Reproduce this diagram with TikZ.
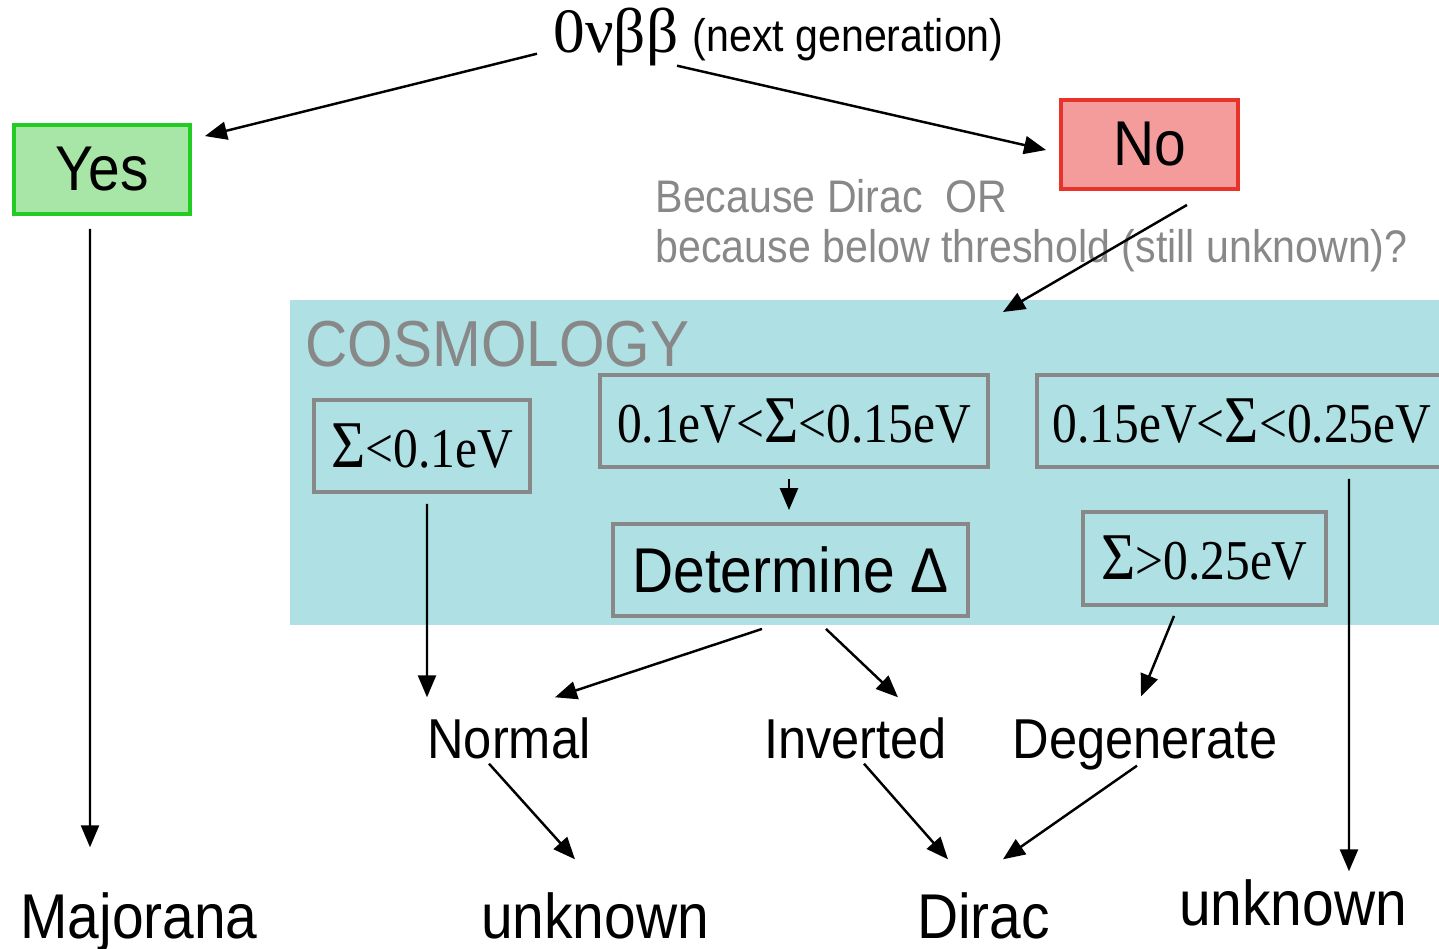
\documentclass[tikz,border=0pt]{standalone}
\usepackage{fontspec}
\setmainfont[FakeStretch=0.9]{Liberation Sans}
\newfontfamily\tnr[FakeStretch=0.88]{Liberation Serif}
\newfontfamily\tnrwide{Liberation Serif}
\usetikzlibrary{arrows.meta}
\definecolor{NuGreen}{HTML}{22CC22}
\definecolor{NuGreenFog}{HTML}{A8E6A8}
\definecolor{NuRed}{HTML}{E8322A}
\definecolor{NuRedFog}{HTML}{F49C9C}
\definecolor{NuGrey}{HTML}{888888}
\definecolor{NuCosmo}{HTML}{AEE0E4}
\newcommand{\bigsig}{{\fontsize{19}{19}\selectfont Σ}}

\begin{document}
\begin{tikzpicture}[
      >={Triangle[length=2.2mm,width=1.8mm]},
      arr/.style={->,line width=0.7pt},
      yesbox/.style={draw=NuGreen,fill=NuGreenFog,line width=1.1pt,minimum width=1.76cm,
        minimum height=0.89cm,font=\fontsize{18}{18}\selectfont},
      nobox/.style={draw=NuRed,fill=NuRedFog,line width=1.1pt,minimum width=1.77cm,
        minimum height=0.89cm,font=\fontsize{18}{18}\selectfont},
      cbox/.style={draw=NuGrey,line width=1.1pt,minimum height=0.92cm,inner sep=0pt},
      mass/.style={cbox,font=\tnr\fontsize{16}{16}\selectfont},
      leaf/.style={inner sep=0pt,text height=0.40cm,text depth=0.12cm,font=\fontsize{16}{16}\selectfont},
      fate/.style={inner sep=0pt,text height=0.46cm,text depth=0.12cm,font=\fontsize{18}{18}\selectfont}
    ]
    \useasboundingbox (0,0) rectangle (14.39,-9.49);

    % cosmology band
    \fill[NuCosmo] (2.90,-3.00) rectangle (14.50,-6.25);
    \node[anchor=base west,inner sep=0pt,text=NuGrey,font=\fontsize{18.5}{18.5}\selectfont]
      (cosmo) at (3.05,-3.66) {COSMOLOGY};
    \coordinate (cosmotop) at (10.03,-3.12);

    % top question
    \node[anchor=base west,inner sep=0pt,text height=0.42cm,text depth=0.12cm,
      font=\tnrwide\fontsize{18}{18}\selectfont] (nu) at (5.53,-0.52) {0νββ};
    \node[anchor=base west,inner sep=0pt,text height=0.40cm,text depth=0.12cm,
      font=\fontsize{13}{13}\selectfont] (gen) at (6.92,-0.51) {(next generation)};

    \node[yesbox] (yes) at (1.02,-1.695) {Yes};
    \node[nobox] (no) at (11.495,-1.445) {No};
    \node[anchor=north west,inner sep=0pt,align=left,text=NuGrey,
      font=\fontsize{13}{14.2}\selectfont] (why) at (6.55,-1.79)
      {Because Dirac\ \ OR\\because below threshold (still unknown)?};

    \draw[arr] ([shift={(-0.16,0.11)}]nu.south west) -- ([shift={(0.13,-0.13)}]yes.north east);
    \draw[arr] ([shift={(-0.15,-0.02)}]gen.south west) -- ([shift={(-0.13,-0.055)}]no.west);
    \draw[arr] ([shift={(0.375,-0.14)}]no.south) -- (cosmotop);

    % mass boxes
    \node[mass,minimum width=2.16cm] (s1) at (4.22,-4.46) {\bigsig<0.1eV};
    \node[mass,minimum width=3.88cm] (s2) at (7.94,-4.21) {0.1eV<\bigsig<0.15eV};
    \node[mass,minimum width=4.10cm] (s3) at (12.42,-4.21) {0.15eV<\bigsig<0.25eV};
    \node[mass,minimum width=2.43cm,minimum height=0.93cm] (s4) at (12.045,-5.585) {\bigsig>0.25eV};
    \node[cbox,minimum width=3.55cm,font=\fontsize{18}{18}\selectfont] (det) at (7.905,-5.70) {Determine Δ};

    % hierarchies
    \node[leaf,anchor=base] (normal) at (5.09,-7.58) {Normal};
    \node[leaf,anchor=base] (inverted) at (8.555,-7.58) {Inverted};
    \node[leaf,anchor=base] (degen) at (11.45,-7.58) {Degenerate};

    % outcomes
    \node[fate,anchor=base] (major) at (1.39,-9.38) {Majorana};
    \node[fate,anchor=base] (unk1) at (5.95,-9.38) {unknown};
    \node[fate,anchor=base] (dirac) at (9.835,-9.38) {Dirac};
    \node[fate,anchor=base] (unk2) at (12.93,-9.25) {unknown};

    \draw[arr] ([shift={(-0.12,-0.13)}]yes.south) -- ([shift={(-0.49,0.44)}]major.north);
    \draw[arr] ([shift={(0.05,-0.10)}]s1.south) -- ([shift={(-0.82,0.20)}]normal.north);
    \draw[arr] ([shift={(-0.05,-0.10)}]s2.south) -- ([shift={(-0.015,0.12)}]det.north);
    \draw[arr] ([shift={(-0.285,-0.11)}]det.south) -- ([shift={(0.46,0.20)}]normal.north);
    \draw[arr] ([shift={(0.355,-0.11)}]det.south) -- ([shift={(0.425,0.20)}]inverted.north);
    \draw[arr] ([shift={(-0.305,-0.09)}]s4.south) -- ([shift={(-0.04,0.21)}]degen.north);
    \draw[arr] ([shift={(1.07,-0.10)}]s3.south) -- ([shift={(0.56,0.07)}]unk2.north);

    \draw[arr] ([shift={(-0.20,0.07)}]normal.south) -- ([shift={(-0.20,0.32)}]unk1.north);
    \draw[arr] ([shift={(0.085,0.07)}]inverted.south) -- ([shift={(-0.355,0.32)}]dirac.north);
    \draw[arr] ([shift={(-0.08,0.05)}]degen.south) -- ([shift={(0.195,0.32)}]dirac.north);
  \end{tikzpicture}
\end{document}
